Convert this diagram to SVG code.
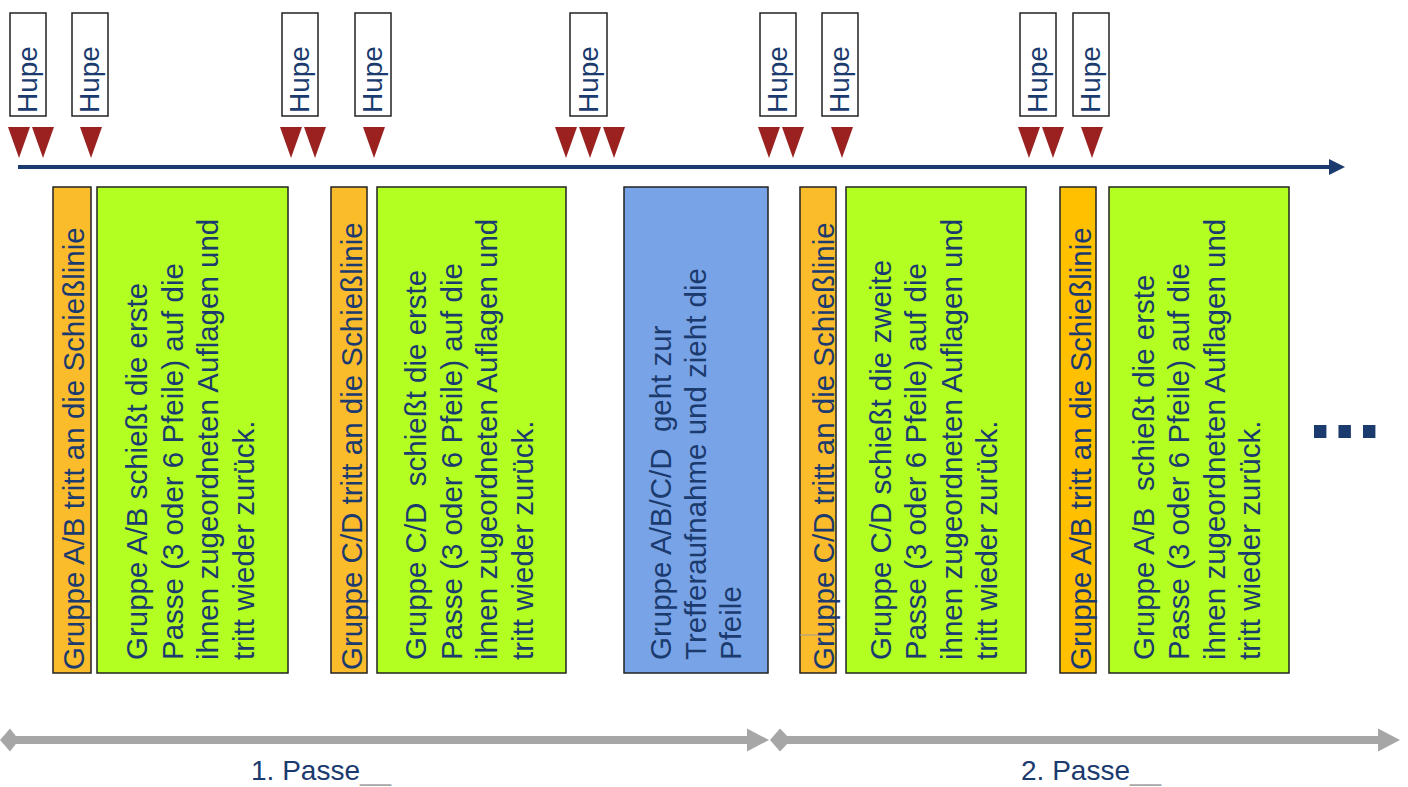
<svg xmlns="http://www.w3.org/2000/svg" width="1408" height="787" viewBox="0 0 1408 787">
<style>
text{font-family:"Liberation Sans",Arial,sans-serif;fill:#1B3A6E;white-space:pre}
.hupe rect{fill:#fff;stroke:#222;stroke-width:1.5}
.hupe text{font-size:28px}
.box{stroke:#222;stroke-width:1.5}
.or{fill:#FBBC2B}
.or2{fill:#FFC000}
.gr{fill:#B3FF21}
.bl{fill:#78A4E7}
.body{font-size:29.5px}
.tri{fill:#9B2121}
.gray{fill:#A6A6A6}
.us{fill:#A6A6A6}
</style>

<g id="hupe-signals">
  <g id="hupe1" class="hupe"><rect x="10" y="13" width="36" height="103"/><text transform="translate(37,113) rotate(-90)">Hupe</text></g>
  <g id="hupe2" class="hupe"><rect x="72" y="13" width="36" height="103"/><text transform="translate(99,113) rotate(-90)">Hupe</text></g>
  <g id="hupe3" class="hupe"><rect x="282" y="13" width="36" height="103"/><text transform="translate(309,113) rotate(-90)">Hupe</text></g>
  <g id="hupe4" class="hupe"><rect x="355" y="13" width="36" height="103"/><text transform="translate(382,113) rotate(-90)">Hupe</text></g>
  <g id="hupe5" class="hupe"><rect x="570" y="13" width="37" height="103"/><text transform="translate(598,113) rotate(-90)">Hupe</text></g>
  <g id="hupe6" class="hupe"><rect x="760" y="13" width="36" height="103"/><text transform="translate(787,113) rotate(-90)">Hupe</text></g>
  <g id="hupe7" class="hupe"><rect x="822" y="13" width="36" height="103"/><text transform="translate(849,113) rotate(-90)">Hupe</text></g>
  <g id="hupe8" class="hupe"><rect x="1020" y="13" width="36" height="103"/><text transform="translate(1047,113) rotate(-90)">Hupe</text></g>
  <g id="hupe9" class="hupe"><rect x="1073" y="13" width="36" height="103"/><text transform="translate(1100,113) rotate(-90)">Hupe</text></g>
</g>

<g id="signal-marks" class="tri">
  <polygon points="8,127 30,127 19,158"/>
  <polygon points="32,127 54,127 43,158"/>
  <polygon points="80,127 102,127 91,158"/>
  <polygon points="280,127 302,127 291,158"/>
  <polygon points="304,127 326,127 315,158"/>
  <polygon points="363,127 385,127 374,158"/>
  <polygon points="555,127 577,127 566,158"/>
  <polygon points="579,127 601,127 590,158"/>
  <polygon points="603,127 625,127 614,158"/>
  <polygon points="758,127 780,127 769,158"/>
  <polygon points="782,127 804,127 793,158"/>
  <polygon points="831,127 853,127 842,158"/>
  <polygon points="1018,127 1040,127 1029,158"/>
  <polygon points="1042,127 1064,127 1053,158"/>
  <polygon points="1081,127 1103,127 1092,158"/>
</g>

<g id="connectors">
  <g id="timeline">
    <line x1="18" y1="167" x2="1331" y2="167" stroke="#1B3A6E" stroke-width="4"/>
    <polygon points="1329,159 1345,167 1329,175" fill="#1B3A6E"/>
  </g>
  <g id="passe1-arrow" class="gray">
    <rect x="10" y="736" width="740" height="8"/>
    <polygon points="0,740 10,728.5 19,740 10,751.5"/>
    <polygon points="747,728.5 769,740 747,751.5"/>
  </g>
  <g id="passe2-arrow" class="gray">
    <rect x="780" y="736" width="602" height="8"/>
    <polygon points="770,740 780,728.5 791,740 780,751.5"/>
    <polygon points="1378,728.5 1400,740 1378,751.5"/>
  </g>
</g>

<g id="step1-orange">
  <rect class="box or" x="53" y="187" width="38" height="486"/>
  <text class="body" transform="translate(84,670) rotate(-90)">Gruppe A/B tritt an die Schießlinie</text>
</g>
<g id="step2-green">
  <rect class="box gr" x="97" y="187" width="191" height="486"/>
  <text class="body" transform="translate(147,660) rotate(-90)"><tspan x="0" y="0">Gruppe A/B schießt die erste</tspan><tspan x="0" y="35.5">Passe (3 oder 6 Pfeile) auf die</tspan><tspan x="0" y="71">ihnen zugeordneten Auflagen und</tspan><tspan x="0" y="106.5">tritt wieder zurück.</tspan></text>
</g>
<g id="step3-orange">
  <rect class="box or" x="331" y="187" width="36" height="486"/>
  <text class="body" transform="translate(362,670) rotate(-90)">Gruppe C/D tritt an die Schießlinie</text>
</g>
<g id="step4-green">
  <rect class="box gr" x="377" y="187" width="189" height="486"/>
  <text class="body" transform="translate(426,660) rotate(-90)"><tspan x="0" y="0">Gruppe C/D  schießt die erste</tspan><tspan x="0" y="35.5">Passe (3 oder 6 Pfeile) auf die</tspan><tspan x="0" y="71">ihnen zugeordneten Auflagen und</tspan><tspan x="0" y="106.5">tritt wieder zurück.</tspan></text>
</g>
<g id="step5-blue">
  <rect class="box bl" x="624" y="187" width="144" height="486"/>
  <text class="body" transform="translate(671,660) rotate(-90)"><tspan x="0" y="0">Gruppe A/B/C/D  geht zur</tspan><tspan x="0" y="35">Trefferaufnahme und zieht die</tspan><tspan x="0" y="70">Pfeile</tspan></text>
</g>
<g id="step6-orange">
  <rect class="box or" x="800" y="187" width="36" height="486"/>
  <line x1="800" y1="635" x2="833" y2="635" stroke="#9A9A9A" stroke-width="1"/>
  <text class="body" transform="translate(834,670) rotate(-90)">Gruppe C/D tritt an die Schießlinie</text>
</g>
<g id="step7-green">
  <rect class="box gr" x="846" y="187" width="180" height="486"/>
  <text class="body" transform="translate(890.5,660) rotate(-90)"><tspan x="0" y="0">Gruppe C/D schießt die zweite</tspan><tspan x="0" y="35.5">Passe (3 oder 6 Pfeile) auf die</tspan><tspan x="0" y="71">ihnen zugeordneten Auflagen und</tspan><tspan x="0" y="106.5">tritt wieder zurück.</tspan></text>
</g>
<g id="step8-orange">
  <rect class="box or2" x="1060" y="187" width="36" height="486"/>
  <text class="body" transform="translate(1091,670) rotate(-90)">Gruppe A/B tritt an die Schießlinie</text>
</g>
<g id="step9-green">
  <rect class="box gr" x="1109" y="187" width="180" height="486"/>
  <text class="body" transform="translate(1153.5,660) rotate(-90)"><tspan x="0" y="0">Gruppe A/B  schießt die erste</tspan><tspan x="0" y="35.5">Passe (3 oder 6 Pfeile) auf die</tspan><tspan x="0" y="71">ihnen zugeordneten Auflagen und</tspan><tspan x="0" y="106.5">tritt wieder zurück.</tspan></text>
</g>

<g id="continuation">
  <text x="1308" y="438" font-size="88" font-weight="bold">...</text>
</g>

<g id="labels">
  <text x="251" y="780" font-size="28">1. Passe<tspan class="us">__</tspan></text>
  <text x="1021" y="780" font-size="28">2. Passe<tspan class="us">__</tspan></text>
</g>
</svg>
